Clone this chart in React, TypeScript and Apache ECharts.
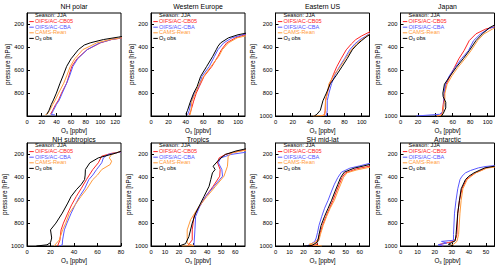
import React, { useEffect, useRef } from 'react';
import * as echarts from 'echarts';

const FONT = 'Liberation Sans, Arial, sans-serif';

const panelTitles = ['NH polar', 'Western Europe', 'Eastern US', 'Japan', 'NH subtropics', 'Tropics', 'SH mid-lat', 'Antarctic'];
const xMax = [128, 108, 109, 108, 80, 67, 67, 55];
const xTickValues = [
  [0, 20, 40, 60, 80, 100, 120],
  [0, 20, 40, 60, 80, 100],
  [0, 20, 40, 60, 80, 100],
  [0, 20, 40, 60, 80, 100],
  [0, 20, 40, 60, 80],
  [0, 10, 20, 30, 40, 50, 60],
  [0, 10, 20, 30, 40, 50, 60],
  [0, 10, 20, 30, 40, 50],
];
const pTicksShort = [200, 400, 600, 800];
const pTicksFull = [200, 400, 600, 800, 1000];
const pTickValues = [pTicksShort, pTicksShort, pTicksFull, pTicksFull, pTicksFull, pTicksFull, pTicksFull, pTicksFull];

const seriesNames = ['OIFS/AC-CB05', 'OIFS/AC-CBA', 'CAMS-Rean', 'O3 obs'];
const seriesColors = ['#ff2424', '#5858ff', '#ff9a3a', '#000000'];
const seasonLabel = 'Season: JJA';

// [ozone ppbv, pressure hPa]
const nhPolarCB05 = [[32,985],[35,950],[39,900],[43,860],[47,800],[54,713],[57,650],[61,566],[68,500],[82,420],[100,361],[115,332],[130,318]];
const nhPolarCBA = [[38,990],[33,988],[36,950],[40,900],[44,860],[48,800],[54,713],[58,650],[62.5,566],[69,500],[82,420],[99,361],[115,332],[130,316]];
const nhPolarCAMS = [[25,990],[28,980],[31,950],[35,900],[38.5,860],[43,800],[50,713],[54,650],[59,566],[65,500],[76,420],[95,361],[113,332],[130,315]];
const nhPolarObs = [[27,985],[30,950],[33,900],[36,860],[40,800],[45,713],[49,650],[54,566],[60,500],[70,420],[78,380],[86,361],[104,332],[125,310],[135,300]];

const weEuCB05 = [[44,990],[46,950],[49,870],[52,800],[55.5,742],[61,654],[70,566],[77,478],[81,420],[87,361],[97,317],[110,285]];
const weEuCBA = [[42,990],[44,950],[46,880],[50,800],[55,742],[58.6,654],[67,566],[73,478],[77,420],[83.5,361],[93,317],[110,280]];
const weEuCAMS = [[45,990],[46,950],[47,870],[51,800],[54,742],[60.5,654],[69,566],[78,478],[82,420],[89,361],[99,317],[110,298]];
const weEuObs = [[40,985],[42,950],[45,880],[49,800],[53,742],[57,654],[64,566],[71,478],[75,420],[77,390],[80,361],[89,317],[100,290],[110,275]];

const eUsCB05 = [[52,1000],[57,990],[57.5,950],[58,867],[60,800],[63,718],[67,640],[71,570],[76,500],[82,422],[88,370],[93,333],[100,300],[110,262]];
const eUsCBA = [[59,1000],[60,950],[60,867],[62,800],[65,718],[69,640],[74,570],[80,500],[86,422],[92,370],[98,333],[104,305],[110,275]];
const eUsCAMS = [[44,1000],[56,996],[58,960],[58,867],[60,800],[62,718],[68,640],[75,570],[81,500],[88,422],[94,370],[100,333],[105,305],[110,280]];
const eUsObs = [[45,1000],[48,985],[52,950],[55,867],[59,800],[63.5,718],[70,650],[77,570],[83,500],[89,422],[94,380],[100,340],[105,310],[110,285]];

const japanCB05 = [[42,1000],[46,995],[48,970],[49,900],[50,850],[50.5,800],[52.5,722],[57,650],[62,575],[67,500],[73,429],[79,341],[86.7,282],[98,240],[108,220]];
const japanCBA = [[18,1000],[45,985],[49,960],[50,900],[50,850],[50,800],[51.7,722],[56,650],[62.7,575],[70,500],[78,429],[84,341],[92,282],[102,235],[108,222]];
const japanCAMS = [[42,1000],[48,990],[49,950],[50,900],[51,850],[51,800],[53.6,722],[59,650],[66,575],[74,500],[81,429],[88.6,341],[96,282],[105.7,240],[108,232]];
const japanObs = [[47,1000],[49,980],[52,930],[52,880],[49,830],[48.7,800],[50.5,722],[57,650],[64,575],[72,500],[79,429],[86.7,341],[94,282],[102,230],[108,205]];

const nhSubCB05 = [[26,1000],[28,950],[29,859],[31,800],[34.7,713],[38,640],[42,566],[46,500],[50.6,420],[53,380],[56,332],[60.7,273],[63.6,215],[72,190],[80,178]];
const nhSubCBA = [[27.5,1000],[30,990],[30.3,947],[31.8,859],[34,800],[37.6,713],[41,640],[44.8,566],[49,500],[52.6,420],[56,380],[59.2,332],[63.6,273],[65,230],[69,200],[80,178]];
const nhSubCAMS = [[23,1000],[27.5,947],[30.3,859],[33,800],[36,713],[41,640],[46,566],[51,500],[56,420],[60,380],[63.6,332],[70.8,288],[72,259],[70,230],[72,200],[80,172]];
const nhSubObs = [[8,1000],[17,990],[20,970],[21,930],[20,859],[24.6,800],[30,713],[34.7,625],[37.6,566],[42,508],[46,464],[49,420],[49.5,380],[49.7,332],[53.5,273],[60.7,230],[75,190],[80,172]];

const tropicsCB05 = [[26,1000],[29.4,947],[29.4,859],[30.6,742],[34.7,654],[39,566],[44.3,478],[49,390],[49.3,332],[47.4,273],[48.6,230],[53,200],[63,170],[68,160]];
const tropicsCBA = [[30.6,1000],[31.3,859],[31.8,742],[34.7,654],[39,566],[45,478],[51,390],[50.5,332],[48,273],[49.8,230],[57,200],[68,180]];
const tropicsCAMS = [[22,1000],[30.6,998],[25.8,977],[25.8,859],[28.2,771],[34.2,654],[40,566],[46,478],[52,390],[54.5,303],[55,215],[58,185],[68,162]];
const tropicsObs = [[20,1000],[24.6,980],[27,918],[29.4,800],[31.8,713],[35.4,625],[37.8,566],[41.4,478],[42.6,420],[43.8,361],[45.7,332],[44.3,303],[48.6,244],[53,200],[60.5,170],[68,150]];

const shMidCB05 = [[25,1000],[30,985],[29,960],[31,930],[32,880],[33.5,820],[36,740],[38.5,670],[41,600],[43.5,520],[45.5,460],[47.5,400],[50,360],[58,325],[68,300]];
const shMidCBA = [[22,1000],[25,985],[28,960],[29,930],[30,880],[31,820],[33,740],[35,670],[37.5,600],[40,520],[42,460],[44.5,400],[47,355],[53,320],[60,300],[68,275]];
const shMidCAMS = [[33,1000],[24,985],[28,970],[31,950],[32,900],[34,820],[36.5,740],[39,670],[42,600],[44.5,520],[46.5,460],[48.5,400],[51,360],[58,335],[68,310]];
const shMidObs = [[20,1000],[26,995],[30,965],[31,900],[32.5,820],[35,740],[37.5,670],[40,600],[42.5,520],[44.5,460],[46.5,400],[49,355],[56,320],[63,300],[68,285]];

const antCB05 = [[25,1000],[23,985],[28,970],[31,960],[32.5,930],[33,900],[33.5,713],[34.5,600],[36,500],[38.5,420],[41,390],[44,361],[47,340],[50.4,317],[56,303]];
const antCBA = [[25,1000],[22,990],[27,975],[24,960],[31,950],[31,900],[31.6,713],[32.5,600],[33.5,500],[34.8,420],[36,390],[38,361],[41,340],[45.7,317],[50,305],[56,296]];
const antCAMS = [[29,1000],[31,985],[33,960],[34,900],[34.8,713],[35.5,600],[36.5,500],[39,420],[41.5,390],[44,361],[47.5,340],[50.4,320],[56,308]];
const antObs = [[31,1000],[28,985],[30,970],[32,955],[32.5,900],[33.5,713],[34.5,600],[35.5,500],[38,420],[40,390],[43,361],[46,340],[49.4,317],[56,300]];

const panelData = [
  [nhPolarCB05, nhPolarCBA, nhPolarCAMS, nhPolarObs],
  [weEuCB05, weEuCBA, weEuCAMS, weEuObs],
  [eUsCB05, eUsCBA, eUsCAMS, eUsObs],
  [japanCB05, japanCBA, japanCAMS, japanObs],
  [nhSubCB05, nhSubCBA, nhSubCAMS, nhSubObs],
  [tropicsCB05, tropicsCBA, tropicsCAMS, tropicsObs],
  [shMidCB05, shMidCBA, shMidCAMS, shMidObs],
  [antCB05, antCBA, antCAMS, antObs],
];

const gridLefts = [27, 151, 275.5, 400.5];
const gridTops = [13, 143];
const titleOffsets = [6.3, 4];
const gridW = 94;
const gridH = 103;

export default function App() {
  const ref = useRef<HTMLDivElement>(null);
  useEffect(() => {
    if (!ref.current) return;
    const chart = echarts.init(ref.current, null, { renderer: 'svg' });
    const grids: any[] = [];
    const xAxes: any[] = [];
    const yAxes: any[] = [];
    const series: any[] = [];
    const graphics: any[] = [];
    const tickFont = 5.8;
    const legFont = 5.6;
    const rowStep = 5.6;
    const plain = (v: number) => String(v);
    for (let i = 0; i < 8; i++) {
      const row = Math.floor(i / 4);
      const left = gridLefts[i % 4];
      const top = gridTops[row];
      grids.push({ left, top, width: gridW, height: gridH, show: true, borderColor: '#000', borderWidth: 1, backgroundColor: 'transparent' });
      xAxes.push({
        type: 'value', gridIndex: i, min: 0, max: xMax[i],
        name: '{a|O}{s|3}{a| [ppbv]}', nameLocation: 'middle', nameGap: 11,
        nameTextStyle: {
          fontSize: 6.3, color: '#000', fontFamily: FONT,
          rich: {
            a: { fontSize: 6.3, fontFamily: FONT, color: '#000', lineHeight: 7 },
            s: { fontSize: 4.2, fontFamily: FONT, color: '#000', lineHeight: 4, verticalAlign: 'bottom' },
          },
        },
        axisLine: { show: true, lineStyle: { color: '#000', width: 1 } },
        axisTick: { show: true, inside: true, length: 3, customValues: xTickValues[i], lineStyle: { color: '#000' } },
        axisLabel: { customValues: xTickValues[i], formatter: plain, fontSize: tickFont, color: '#000', fontFamily: FONT, margin: 3 },
        splitLine: { show: false },
      });
      yAxes.push({
        type: 'value', gridIndex: i, min: 100, max: 1000, inverse: true,
        name: 'pressure [hPa]', nameLocation: 'middle', nameGap: 17, nameRotate: 90,
        nameTextStyle: { fontSize: 6.3, color: '#000', fontFamily: FONT },
        axisLine: { show: true, lineStyle: { color: '#000', width: 1 } },
        axisTick: { show: true, inside: true, length: 3, customValues: pTickValues[i], lineStyle: { color: '#000' } },
        axisLabel: { customValues: pTickValues[i], formatter: plain, fontSize: tickFont, color: '#000', fontFamily: FONT, margin: 3 },
        splitLine: { show: false },
      });
      panelData[i].forEach((d, k) => {
        series.push({
          type: 'line', xAxisIndex: i, yAxisIndex: i, name: seriesNames[k], data: d,
          showSymbol: false, symbol: 'none', clip: true,
          lineStyle: { color: seriesColors[k], width: 1 }, itemStyle: { color: seriesColors[k] },
          z: 2 + k,
        });
      });
      graphics.push({
        type: 'text', x: left + gridW / 2, y: top - titleOffsets[row], z: 100,
        style: { text: panelTitles[i], fontSize: 6.9, fontFamily: FONT, fill: '#000', align: 'center', verticalAlign: 'middle' },
      });
      graphics.push({
        type: 'text', x: left + 8, y: top + 2.4, z: 100,
        style: { text: seasonLabel, fontSize: legFont, fontFamily: FONT, fill: '#000', verticalAlign: 'middle' },
      });
      seriesNames.forEach((n, k) => {
        const yy = top + 8.1 + k * rowStep;
        graphics.push({
          type: 'line', z: 100,
          shape: { x1: left + 2.3, y1: yy + 0.5, x2: left + 6.8, y2: yy + 0.5 },
          style: { stroke: seriesColors[k], lineWidth: 1 },
        });
        const isObs = k === 3;
        graphics.push({
          type: 'text', x: left + 8, y: yy, z: 100,
          style: isObs
            ? {
                text: '{a|O}{s|3}{a| obs}', fill: '#000', verticalAlign: 'middle', fontFamily: FONT, fontSize: legFont,
                rich: {
                  a: { fontSize: legFont, fontFamily: FONT, fill: '#000', lineHeight: 6.5 },
                  s: { fontSize: 4, fontFamily: FONT, fill: '#000', lineHeight: 4, verticalAlign: 'bottom' },
                },
              }
            : { text: n, fontSize: legFont, fontFamily: FONT, fill: seriesColors[k], verticalAlign: 'middle' },
        });
      });
    }
    chart.setOption({
      animation: false,
      backgroundColor: '#fff',
      grid: grids,
      xAxis: xAxes,
      yAxis: yAxes,
      series,
      graphic: graphics,
    });
    return () => chart.dispose();
  }, []);
  return <div ref={ref} style={{ position: 'fixed', left: 0, top: 0, width: 500, height: 267 }} />;
}
